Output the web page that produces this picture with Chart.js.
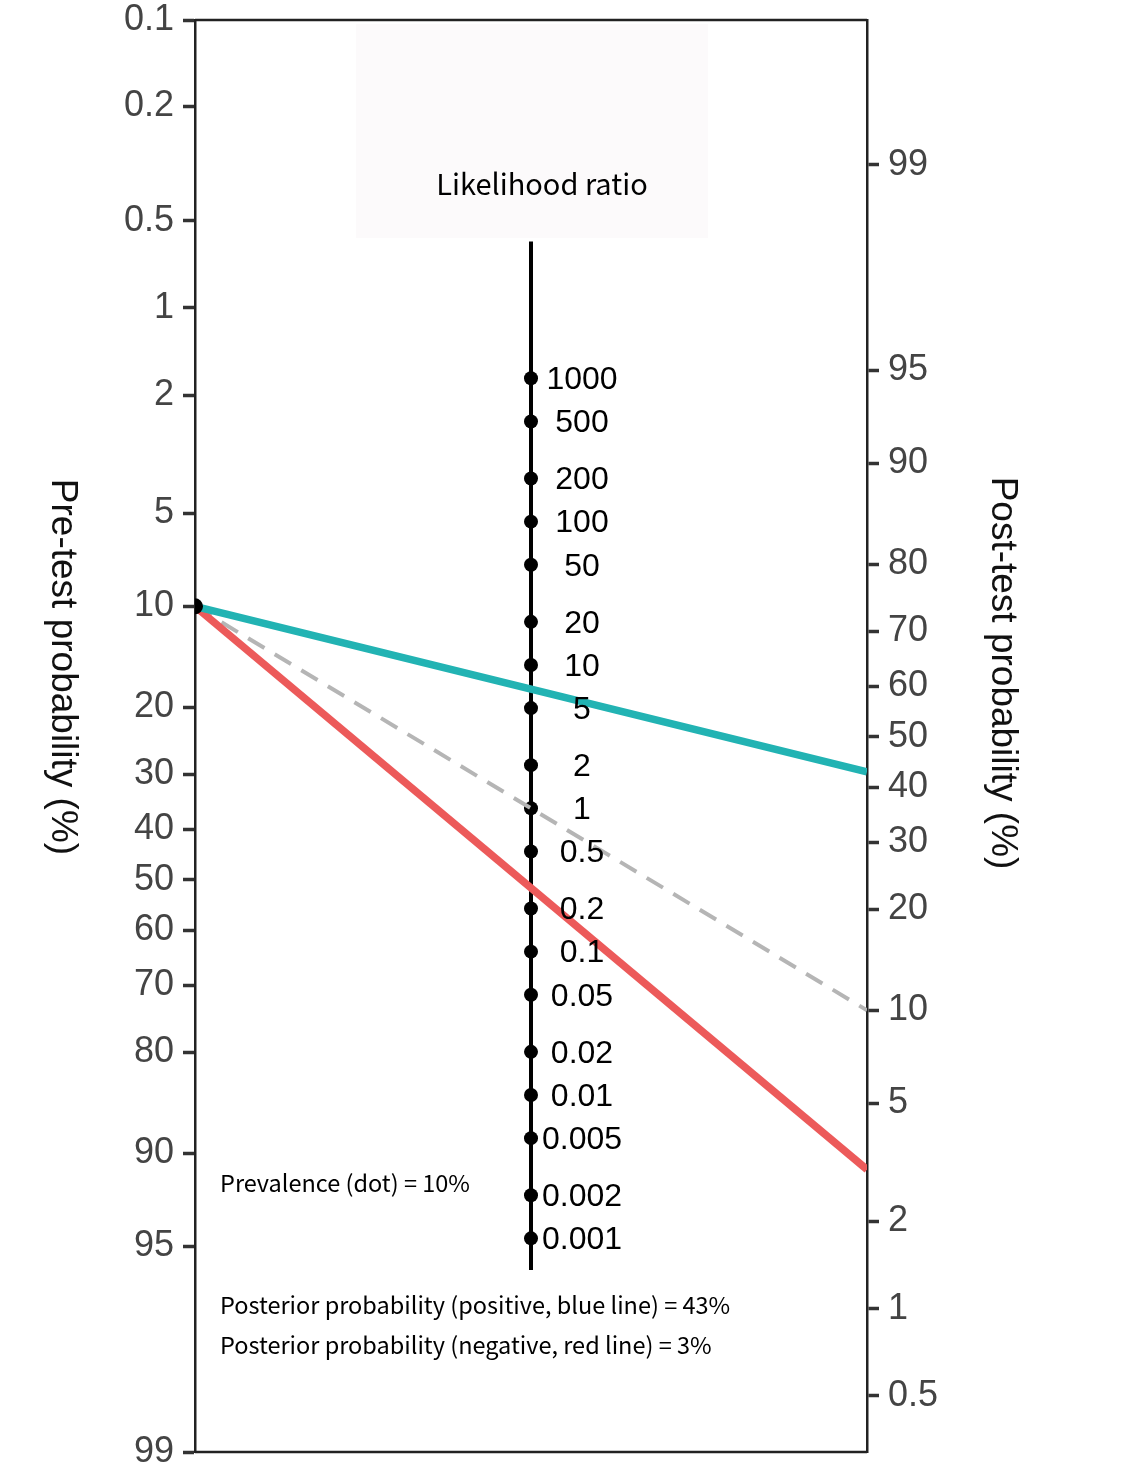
<!DOCTYPE html>
<html>
<head>
<meta charset="utf-8">
<script src="https://cdn.jsdelivr.net/npm/chart.js@4.4.1/dist/chart.umd.min.js"></script>
<style>
  html, body { margin: 0; padding: 0; background: #ffffff; }
  #wrap { width: 1135px; height: 1472px; position: relative; }
</style>
</head>
<body>
<div id="wrap"><canvas id="fagan"></canvas></div>
<script>
// ------------------------------------------------------
// DATA
// ------------------------------------------------------

const preTestTicks = [0.1, 0.2, 0.5, 1, 2, 5, 10, 20, 30, 40, 50, 60, 70, 80, 90, 95, 99];
const postTestTicks = [99, 95, 90, 80, 70, 60, 50, 40, 30, 20, 10, 5, 2, 1, 0.5];
const lrTicks = [1000, 500, 200, 100, 50, 20, 10, 5, 2, 1, 0.5, 0.2, 0.1, 0.05, 0.02, 0.01, 0.005, 0.002, 0.001];
const lrAxisEnds = [9000, 0.0006];

const prevalence = 10;        // pre-test probability (%)
const postPositive = 43;      // blue line (%)
const postNegative = 3;       // red line (%)
const postNeutral = 10;       // LR = 1 (%)

// right axis is shifted against the left one in this picture
const rightShift = -1.15;

// ------------------------------------------------------
// SCALE TRANSFORMS (logit units)
// ------------------------------------------------------

function logit(pct) {
    const p = pct / 100;
    return Math.log(p / (1 - p));
}

function posLeft(pct) { return logit(pct); }
function posRight(pct) { return rightShift - logit(pct); }
function posMiddle(lr) { return (rightShift - Math.log(lr)) / 2; }

const yMin = posLeft(0.1);
const yMax = posLeft(99);

const tickFont = { family: "'Liberation Sans', Arial, sans-serif", size: 36 };
const tickColor = "#444444";

// ------------------------------------------------------
// TEXT PLUGIN
// ------------------------------------------------------

const faganText = {
    id: "faganText",
    beforeDatasetsDraw(chart) {
        const ctx = chart.ctx;
        const x = chart.scales.x;
        const y = chart.scales.y;
        ctx.save();
        // faint box behind the middle title
        ctx.fillStyle = "#fcfafb";
        ctx.fillRect(356, 24, 352, 214);
        ctx.fillStyle = "#000000";
        ctx.font = "29px 'Noto Sans CJK SC', 'Noto Sans', sans-serif";
        ctx.textAlign = "center";
        ctx.textBaseline = "middle";
        ctx.fillText("Likelihood ratio", 542, 184);
        // frame top / bottom
        ctx.strokeStyle = "#222222";
        ctx.lineWidth = 2.5;
        ctx.beginPath();
        ctx.moveTo(x.left, y.top);
        ctx.lineTo(x.right, y.top);
        ctx.moveTo(x.left, y.bottom);
        ctx.lineTo(x.right, y.bottom);
        ctx.stroke();
        ctx.restore();
    },
    afterDatasetsDraw(chart) {
        const ctx = chart.ctx;
        const x = chart.scales.x;
        const y = chart.scales.y;
        ctx.save();

        // likelihood ratio labels
        ctx.fillStyle = "#000000";
        ctx.font = "32px 'Liberation Sans', Arial, sans-serif";
        ctx.textAlign = "center";
        ctx.textBaseline = "middle";
        const mx = x.getPixelForValue(0.5);
        lrTicks.forEach(v => {
            ctx.fillText(String(v), mx + 51, y.getPixelForValue(posMiddle(v)) + 2);
        });

        // annotations
        ctx.font = "23.5px 'Noto Sans CJK SC', 'Noto Sans', sans-serif";
        ctx.textAlign = "left";
        ctx.fillText("Prevalence (dot) = " + prevalence + "%", 220, 1183);
        ctx.fillText("Posterior probability (positive, blue line) = " + postPositive + "%", 220, 1305);
        ctx.fillText("Posterior probability (negative, red line) = " + postNegative + "%", 220, 1345);

        // axis titles, both rotated clockwise
        ctx.font = "37px 'Liberation Sans', Arial, sans-serif";
        ctx.fillStyle = "#111111";
        ctx.textAlign = "center";
        ctx.save();
        ctx.translate(62, 667);
        ctx.rotate(Math.PI / 2);
        ctx.fillText("Pre-test probability (%)", 0, 0);
        ctx.restore();
        ctx.save();
        ctx.translate(1002, 673);
        ctx.rotate(Math.PI / 2);
        ctx.fillText("Post-test probability (%)", 0, 0);
        ctx.restore();

        ctx.restore();
    }
};

// ------------------------------------------------------
// CHART
// ------------------------------------------------------

function lineFrom(pre, post) {
    return [
        { x: 0, y: posLeft(pre) },
        { x: 1, y: posRight(post) }
    ];
}

function fitSide(width) {
    return function (scale) {
        scale.width = width;
        scale.paddingTop = 0;
        scale.paddingBottom = 0;
    };
}

const ctx = document.getElementById("fagan");

new Chart(ctx, {
    type: "line",
    data: {
        datasets: [
            {
                label: "LR axis",
                data: lrAxisEnds.map(v => ({ x: 0.5, y: posMiddle(v) })),
                borderColor: "#000000",
                borderWidth: 4,
                pointRadius: 0,
                order: 6
            },
            {
                label: "LR points",
                data: lrTicks.map(v => ({ x: 0.5, y: posMiddle(v) })),
                showLine: false,
                pointRadius: 7,
                pointBackgroundColor: "#000000",
                pointBorderWidth: 0,
                order: 5
            },
            {
                label: "LR = 1",
                data: lineFrom(prevalence, postNeutral),
                borderColor: "#b5b5b5",
                borderWidth: 4,
                borderDash: [19, 12],
                pointRadius: 0,
                order: 4
            },
            {
                label: "Negative",
                data: lineFrom(prevalence, postNegative),
                borderColor: "#ec5a5a",
                borderWidth: 7.5,
                pointRadius: 0,
                order: 3
            },
            {
                label: "Positive",
                data: lineFrom(prevalence, postPositive),
                borderColor: "#22b3b3",
                borderWidth: 7.5,
                pointRadius: 0,
                order: 2
            },
            {
                label: "Prevalence",
                data: [{ x: 0, y: posLeft(prevalence) }],
                showLine: false,
                pointRadius: 8,
                pointBackgroundColor: "#000000",
                pointBorderWidth: 0,
                order: 1
            }
        ]
    },
    options: {
        responsive: true,
        maintainAspectRatio: false,
        animation: false,
        layout: { padding: { top: 20, bottom: 20, left: 0, right: 0 } },
        plugins: {
            legend: { display: false },
            tooltip: { enabled: false }
        },
        scales: {
            x: {
                type: "linear",
                min: 0,
                max: 1,
                display: false
            },
            y: {
                type: "linear",
                position: "left",
                reverse: true,
                min: yMin,
                max: yMax,
                afterBuildTicks(scale) {
                    scale.ticks = preTestTicks.map(v => ({ value: posLeft(v) }));
                },
                afterFit: fitSide(195),
                ticks: {
                    color: tickColor,
                    font: tickFont,
                    padding: 9,
                    autoSkip: false,
                    callback: (value, index) => String(preTestTicks[index])
                },
                grid: {
                    drawOnChartArea: false,
                    tickLength: 12,
                    tickWidth: 3.5,
                    tickColor: "#333333"
                },
                border: { color: "#222222", width: 2.5 }
            },
            y2: {
                type: "linear",
                position: "right",
                reverse: true,
                min: yMin,
                max: yMax,
                afterBuildTicks(scale) {
                    scale.ticks = postTestTicks.map(v => ({ value: posRight(v) }));
                },
                afterFit: fitSide(1135 - 867),
                ticks: {
                    color: tickColor,
                    font: tickFont,
                    padding: 9,
                    autoSkip: false,
                    callback: (value, index) => String(postTestTicks[index])
                },
                grid: {
                    drawOnChartArea: false,
                    tickLength: 12,
                    tickWidth: 3.5,
                    tickColor: "#333333"
                },
                border: { color: "#222222", width: 2.5 }
            }
        }
    },
    plugins: [faganText]
});
</script>
</body>
</html>
